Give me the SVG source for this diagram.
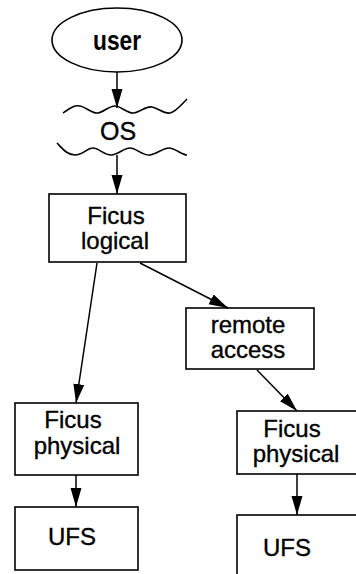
<svg xmlns="http://www.w3.org/2000/svg" width="356" height="574" viewBox="0 0 356 574">
<style>
.box{fill:#fff;stroke:#000;stroke-width:1.6}
.t{font-family:"Liberation Sans",Arial,sans-serif;font-size:24px;fill:#000;stroke:#000;stroke-width:0.35;text-anchor:middle}
.c{fill:none;stroke:#000;stroke-width:1.5}
.w{fill:none;stroke:#000;stroke-width:1.6}
</style>
<defs>
<marker id="ah" markerUnits="userSpaceOnUse" markerWidth="20" markerHeight="12" refX="19" refY="5.5" orient="auto">
<path d="M0,0 L19,5.5 L0,11 z" fill="#000"/>
</marker>
</defs>
<rect width="356" height="574" fill="#fff"/>
<g id="user">
<ellipse cx="117" cy="40" rx="65" ry="32" class="box"/>
<text x="117" y="50" class="t" style="font-size:27px;font-weight:bold;stroke-width:0" textLength="48" lengthAdjust="spacingAndGlyphs">user</text>
</g>
<g id="os">
<path class="w" d="M63,113 C70,108 74,105 80,106 S92,114 98,113 S110,105 116,106 S128,114 134,113 S146,106 152,107 S164,114 170,113 S182,104 187,99"/>
<path class="w" d="M57,143 C62,148 67,155 75,155 S87,148 93,148 S105,156 112,155 S124,148 130,148 S143,156 150,155 S163,148 169,148 S182,155 187,155"/>
<text x="118" y="140" class="t" style="font-size:25px">OS</text>
</g>
<g id="ficus-logical">
<rect x="49" y="194" width="137" height="68" class="box"/>
<text x="116" y="224" class="t">Ficus</text>
<text x="115" y="249" class="t">logical</text>
</g>
<g id="remote-access">
<rect x="186" y="308" width="128" height="61" class="box"/>
<text x="248" y="333" class="t">remote</text>
<text x="248" y="358" class="t">access</text>
</g>
<g id="ficus-physical-left">
<rect x="15" y="403" width="123" height="72" class="box"/>
<text x="73" y="428" class="t">Ficus</text>
<text x="77" y="454" class="t">physical</text>
</g>
<g id="ufs-left">
<rect x="15" y="507" width="123" height="63" class="box"/>
<text x="72" y="545" class="t">UFS</text>
</g>
<g id="ficus-physical-right">
<rect x="237" y="411" width="122" height="63" class="box"/>
<text x="292" y="437" class="t">Ficus</text>
<text x="296" y="462" class="t">physical</text>
</g>
<g id="ufs-right">
<rect x="237" y="515" width="122" height="65" class="box"/>
<text x="287" y="556" class="t">UFS</text>
</g>
<g id="connectors">
<line x1="117" y1="72" x2="117" y2="108" class="c" marker-end="url(#ah)"/>
<line x1="117" y1="155" x2="117" y2="194" class="c" marker-end="url(#ah)"/>
<line x1="140" y1="263" x2="228" y2="308" class="c" marker-end="url(#ah)"/>
<line x1="97" y1="263" x2="76" y2="403" class="c" marker-end="url(#ah)"/>
<line x1="76" y1="475" x2="76" y2="507" class="c" marker-end="url(#ah)"/>
<line x1="257" y1="370" x2="297" y2="411" class="c" marker-end="url(#ah)"/>
<line x1="297" y1="474" x2="297" y2="515" class="c" marker-end="url(#ah)"/>
</g>
</svg>
